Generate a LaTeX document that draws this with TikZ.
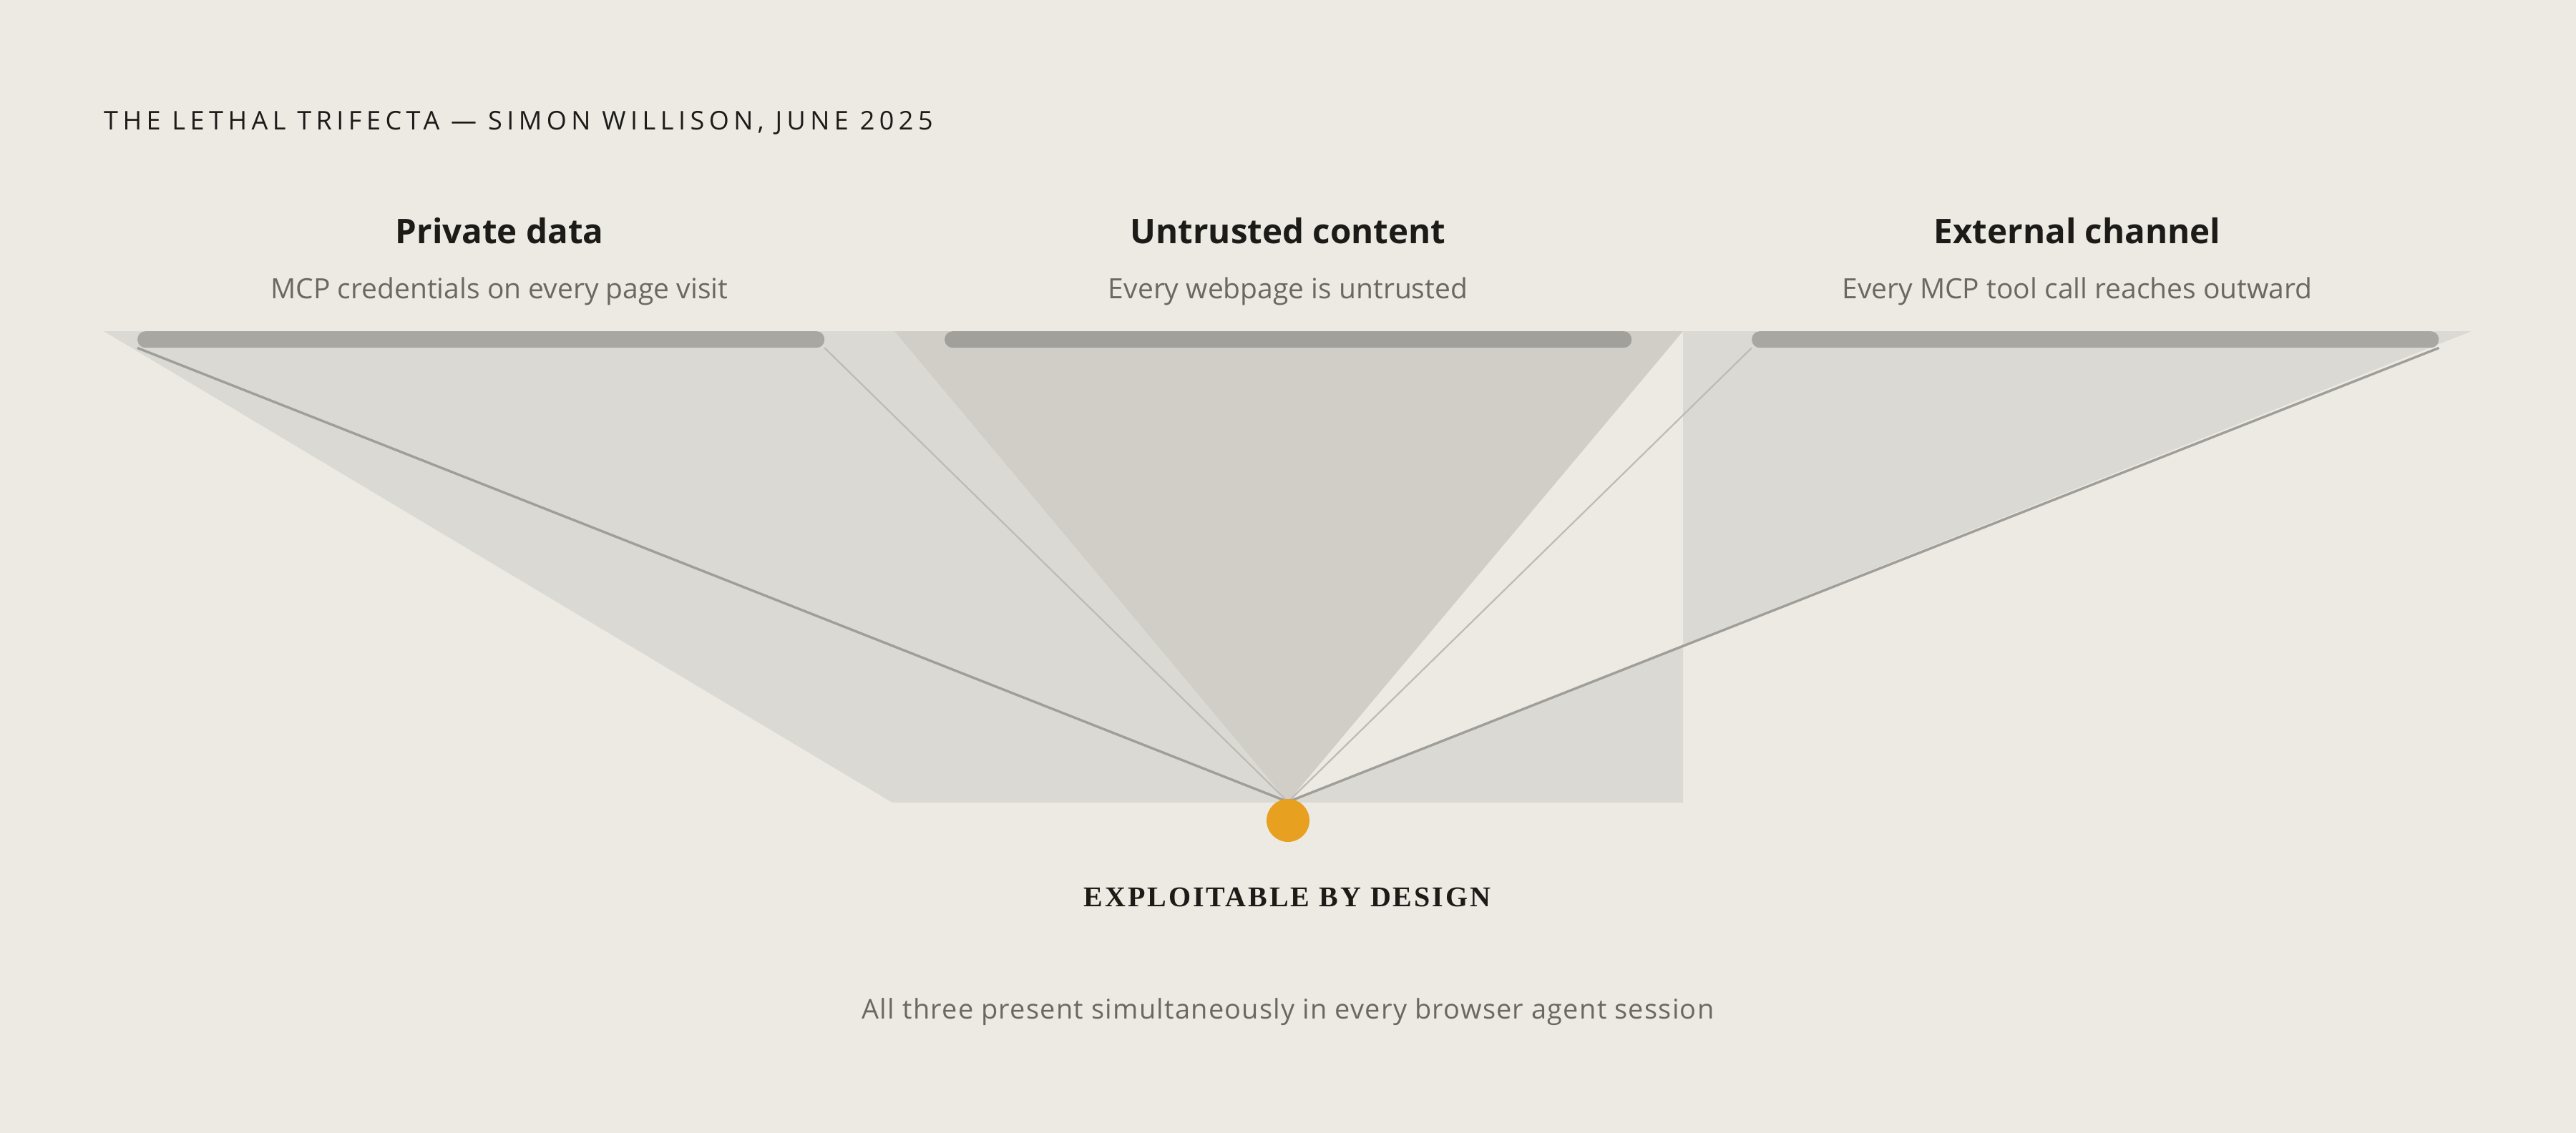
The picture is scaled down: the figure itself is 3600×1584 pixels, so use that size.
\documentclass[tikz,border=0pt]{standalone}
\usepackage{fontspec}
\setmainfont{Open Sans}
\newfontfamily\titlefont[LetterSpace=18]{Open Sans}
\newfontfamily\notefont[LetterSpace=3.2]{Open Sans}
\newfontfamily\capsfont[LetterSpace=7.5]{Liberation Serif}
\definecolor{bg}{HTML}{EDEAE4}
\definecolor{lightfill}{HTML}{DAD9D4}
\definecolor{midfill}{HTML}{D1CEC7}
\definecolor{barcol}{HTML}{A8A7A2}
\definecolor{barmid}{HTML}{A2A09B}
\definecolor{thickline}{HTML}{A09E99}
\definecolor{thinline}{HTML}{BDBBB6}
\definecolor{orangedot}{HTML}{E8A020}
\definecolor{ink}{HTML}{1C1B18}
\definecolor{muted}{HTML}{6B6862}
\tikzset{
  txt/.style={inner sep=0pt, anchor=base},
  heading/.style={txt, text=ink, font=\fontsize{47.5}{56}\selectfont\bfseries},
  subhead/.style={txt, text=muted, font=\fontsize{39}{46}\selectfont},
  barbox/.style={fill=barcol, rounded corners=11pt},
  strongline/.style={draw=thickline, line width=3.4pt},
  softline/.style={draw=thinline, line width=2.2pt},
}
\begin{document}
\begin{tikzpicture}[x=1pt,y=-1pt]
\fill[bg] (0,0) rectangle (3600,1584);
\useasboundingbox (0,0) rectangle (3600,1584);
% key points
\coordinate (TL) at (145,463);
\coordinate (C1) at (1250,463);
\coordinate (C2) at (2352,463);
\coordinate (TR) at (3454,463);
\coordinate (apex) at (1800,1121);
\coordinate (BL) at (1247,1122);
\coordinate (BM) at (1800,1122);
\coordinate (BR) at (2352,1122);
\coordinate (V) at (2352,901.4);
% regions
\fill[lightfill] (TL) -- (C1) -- (apex) -- (BM) -- (BL) -- cycle;
\fill[midfill] (C1) -- (C2) -- (apex) -- cycle;
\fill[lightfill] (apex) -- (V) -- (BR) -- (BM) -- cycle;
\fill[lightfill] (C2) -- (TR) -- (V) -- cycle;
% bars
\node[barbox, minimum width=960pt, minimum height=23pt, inner sep=0pt, anchor=north west] (bar1) at (192,463) {};
\node[barbox, fill=barmid, minimum width=960pt, minimum height=23pt, inner sep=0pt, anchor=north west] (bar2) at (1320,463) {};
\node[barbox, minimum width=960pt, minimum height=23pt, inner sep=0pt, anchor=north west] (bar3) at (2448,463) {};
% connectors
\draw[strongline] (bar1.south west) -- (apex);
\draw[softline] (bar1.south east) -- (apex);
\draw[softline] (bar3.south west) -- (apex);
\draw[strongline] (bar3.south east) -- (apex);
% node
\fill[orangedot] (1800,1147) circle (30pt);
\node[inner sep=0pt, minimum size=60pt, circle] (dot) at (1800,1147) {};
% texts
\node[inner sep=0pt, anchor=base west, text=ink] (title) at (145,181) {\titlefont\fontsize{36}{42}\selectfont THE LETHAL TRIFECTA — SIMON WILLISON, JUNE 2025};
\node[heading] (h1) at (698,340) {Private data};
\node[heading] (h2) at (1800,340) {Untrusted content};
\node[heading] (h3) at (2903,340) {External channel};
\node[subhead] (s1) at (698,417) {MCP credentials on every page visit};
\node[subhead] (s2) at (1800,417) {Every webpage is untrusted};
\node[subhead] (s3) at (2903,417) {Every MCP tool call reaches outward};
\node[txt, text=ink] (verdict) at (1799,1267) {\capsfont\fontsize{40}{46}\selectfont\bfseries EXPLOITABLE BY DESIGN};
\node[txt, text=muted] (note) at (1800,1424) {\notefont\fontsize{38}{46}\selectfont All three present simultaneously in every browser agent session};
\end{tikzpicture}
\end{document}
